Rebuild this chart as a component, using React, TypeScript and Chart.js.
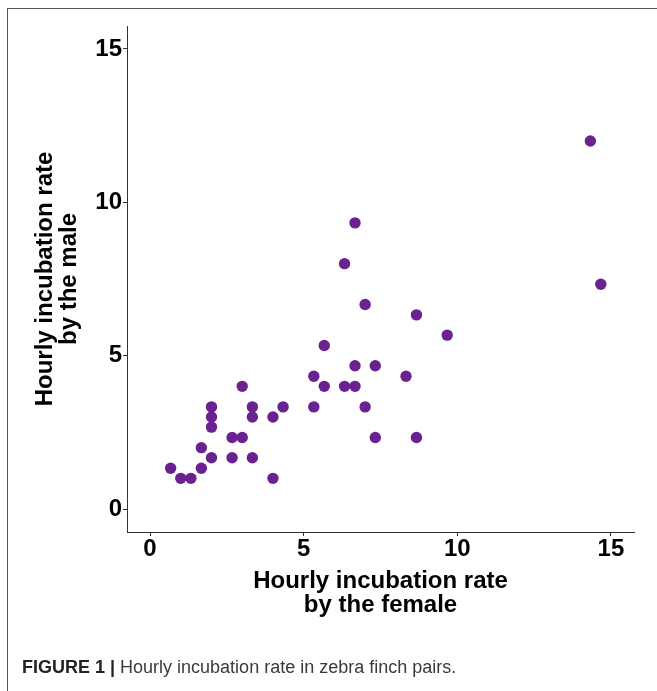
import React, { useEffect, useRef } from 'react';
import { Chart, registerables } from 'chart.js';

Chart.register(...registerables);

const femaleRate = [0.67, 1.0, 1.33, 1.67, 1.67, 2.0, 2.0, 2.0, 2.0, 2.67, 2.67, 3.0, 3.0, 3.33, 3.33, 3.33, 4.0, 4.0, 4.33, 5.33, 5.33, 5.67, 5.67, 6.33, 6.33, 6.67, 6.67, 6.67, 7.0, 7.0, 7.33, 7.33, 8.33, 8.67, 8.67, 9.67, 14.33, 14.67];
const maleRate = [1.33, 1.0, 1.0, 1.33, 2.0, 1.67, 2.67, 3.0, 3.33, 2.33, 1.67, 2.33, 4.0, 3.33, 3.0, 1.67, 3.0, 1.0, 3.33, 3.33, 4.33, 4.0, 5.33, 4.0, 8.0, 4.0, 4.67, 9.33, 6.67, 3.33, 4.67, 2.33, 4.33, 6.33, 2.33, 5.67, 12.0, 7.33];
const xTicks = [0, 5, 10, 15];
const yTicks = [0, 5, 10, 15];
const xTitle = ['Hourly incubation rate', 'by the female'];
const yTitle = ['Hourly incubation rate', 'by the male'];
const captionBold = 'FIGURE 1 |';
const captionText = ' Hourly incubation rate in zebra finch pairs.';

const FAMILY = "'Liberation Sans', Arial, Helvetica, sans-serif";

export default function App() {
  const ref = useRef<HTMLCanvasElement | null>(null);

  useEffect(() => {
    if (!ref.current) return;
    const tickFont = { family: FAMILY, size: 24, weight: 'bold' as const, lineHeight: 1 };
    const titleFont = { family: FAMILY, size: 24, weight: 'bold' as const, lineHeight: 1 };
    const chart = new Chart(ref.current, {
      type: 'scatter',
      data: {
        datasets: [
          {
            data: femaleRate.map((x, i) => ({ x, y: maleRate[i] })),
            backgroundColor: '#6a2290',
            borderWidth: 0,
            pointRadius: 5.7,
            pointHoverRadius: 5.7,
          },
        ],
      },
      options: {
        responsive: false,
        animation: false,
        devicePixelRatio: 1,
        layout: { padding: { top: 26, right: 23, bottom: 0, left: 0 } },
        plugins: { legend: { display: false }, tooltip: { enabled: false } },
        scales: {
          x: {
            type: 'linear',
            min: -0.75,
            max: 15.75,
            afterBuildTicks: (s: any) => {
              s.ticks = xTicks.map((v) => ({ value: v }));
            },
            afterFit: (s: any) => {
              s.height = 159;
            },
            grid: { drawOnChartArea: false, drawTicks: true, tickLength: 4, color: '#333', lineWidth: 1 },
            border: { display: true, color: '#333', width: 1 },
            ticks: { color: '#000', font: tickFont, padding: 1, maxRotation: 0, autoSkip: false },
            title: { display: true, text: xTitle, color: '#000', font: titleFont, padding: { top: 0, bottom: 74 } },
          },
          y: {
            type: 'linear',
            min: -0.75,
            max: 15.75,
            afterBuildTicks: (s: any) => {
              s.ticks = yTicks.map((v) => ({ value: v }));
            },
            afterFit: (s: any) => {
              s.width = 127;
            },
            grid: { drawOnChartArea: false, drawTicks: true, tickLength: 4, color: '#333', lineWidth: 1 },
            border: { display: true, color: '#333', width: 1 },
            ticks: { color: '#000', font: tickFont, padding: 1, autoSkip: false },
            title: { display: true, text: yTitle, color: '#000', font: titleFont, padding: { top: 33, bottom: 0 } },
          },
        },
      },
    });
    return () => chart.destroy();
  }, []);

  return (
    <div style={{ position: 'absolute', left: 0, top: 0, width: 657, height: 691, background: '#fff', overflow: 'hidden' }}>
      <canvas ref={ref} width={657} height={691} style={{ position: 'absolute', left: 0, top: 0, width: 657, height: 691 }} />
      <div style={{ position: 'absolute', left: 7, top: 8, right: 0, height: 1, background: '#555' }} />
      <div style={{ position: 'absolute', left: 7, top: 8, width: 1, bottom: 0, background: '#555' }} />
      <div
        style={{
          position: 'absolute',
          left: 22,
          top: 657,
          whiteSpace: 'nowrap',
          fontFamily: FAMILY,
          fontSize: 18,
          lineHeight: '20px',
          color: '#3a3a3a',
        }}
      >
        <span style={{ fontWeight: 'bold', color: '#222' }}>{captionBold}</span>
        <span>{captionText}</span>
      </div>
    </div>
  );
}
